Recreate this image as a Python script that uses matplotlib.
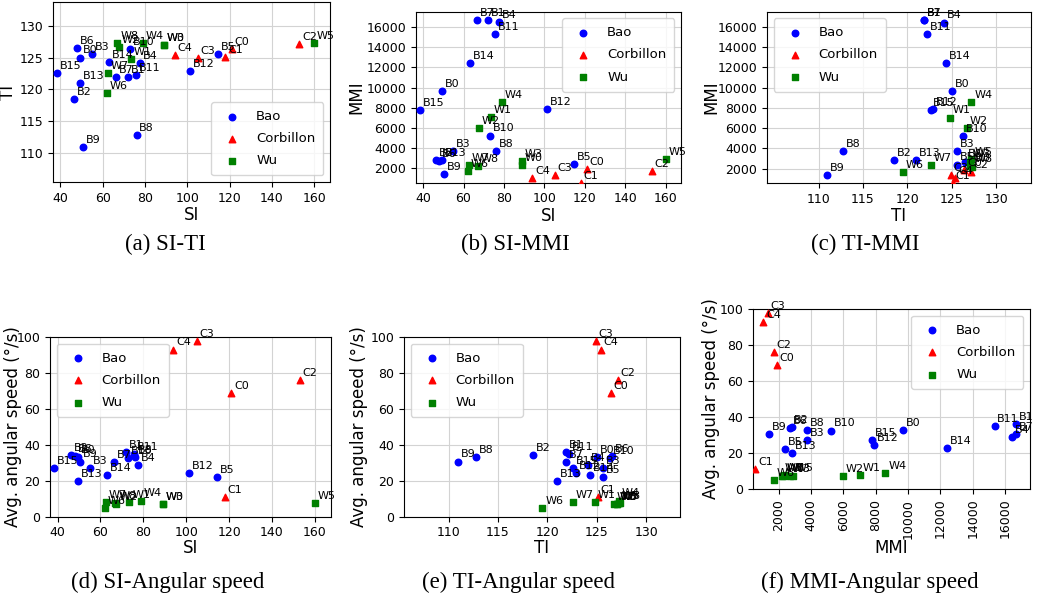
import matplotlib
matplotlib.use("Agg")
import matplotlib.pyplot as plt

# per-video features
bao_names = [f"B{i}" for i in range(16)]
bao_si = [49.5, 72, 46.5, 55, 77.5, 114.5, 48, 66.5, 76, 50.5, 73, 75.7, 101.5, 49.5, 63, 38.5]
bao_ti = [125.0, 121.9, 118.5, 125.6, 124.1, 125.6, 126.5, 121.9, 112.8, 111.0, 126.3, 122.2, 122.9, 121.0, 124.3, 122.6]
bao_mmi = [9700, 16700, 2800, 3750, 16450, 2400, 2700, 16700, 3750, 1400, 5250, 15350, 7900, 2850, 12400, 7800]
bao_speed = [33, 36, 34.5, 27, 29, 22, 34, 30.5, 33, 30.7, 32.5, 35, 24.5, 20, 23, 27]

cor_names = [f"C{i}" for i in range(5)]
cor_si = [121, 118, 153, 105, 94]
cor_ti = [126.4, 125.1, 127.1, 124.9, 125.4]
cor_mmi = [1900, 560, 1700, 1350, 1050]
cor_speed = [69, 11, 76, 98, 93]

wu_names = [f"W{i}" for i in range(9)]
wu_si = [89, 73.5, 67.5, 89, 79, 160, 62, 62.5, 67]
wu_ti = [127.0, 124.8, 126.7, 127.0, 127.2, 127.2, 119.5, 122.6, 127.3]
wu_mmi = [2300, 7050, 6000, 2700, 8600, 2900, 1700, 2350, 2200]
wu_speed = [7, 8, 7, 7, 9, 7.5, 5, 8, 7.5]

captions = ["(a) SI-TI", "(b) SI-MMI", "(c) TI-MMI",
            "(d) SI-Angular speed", "(e) TI-Angular speed", "(f) MMI-Angular speed"]

DATA = {
    "Bao": dict(names=bao_names, SI=bao_si, TI=bao_ti, MMI=bao_mmi, SPD=bao_speed),
    "Corbillon": dict(names=cor_names, SI=cor_si, TI=cor_ti, MMI=cor_mmi, SPD=cor_speed),
    "Wu": dict(names=wu_names, SI=wu_si, TI=wu_ti, MMI=wu_mmi, SPD=wu_speed),
}
STYLE = {
    "Bao": dict(color="blue", marker="o"),
    "Corbillon": dict(color="red", marker="^"),
    "Wu": dict(color="green", marker="s"),
}
LABELS = {"SI": "SI", "TI": "TI", "MMI": "MMI", "SPD": "Avg. angular speed (°/s)"}

W, H = 1037, 600


def place(fig, l, r, t, b):
    return fig.add_axes([l / W, 1 - b / H, (r - l) / W, (b - t) / H])


def panel(ax, xk, yk, xlim, ylim, legend_loc, ylab_x):
    for group, d in DATA.items():
        ax.scatter(d[xk], d[yk], s=22, label=group, zorder=3, **STYLE[group])
        for name, x, y in zip(d["names"], d[xk], d[yk]):
            ax.annotate(name, (x, y), xytext=(2, 1.5), textcoords="offset points",
                        fontsize=8, ha="left", va="bottom", zorder=4)
    ax.set_xlim(*xlim)
    ax.set_ylim(*ylim)
    ax.set_xlabel(LABELS[xk], fontsize=12, labelpad=1)
    ax.set_ylabel(LABELS[yk], fontsize=12)
    ax.yaxis.set_label_coords(ylab_x, 0.5)
    ax.tick_params(labelsize=9)
    ax.grid(True, color="#d3d3d3", linewidth=0.8)
    ax.set_axisbelow(True)
    ax.legend(loc=legend_loc, fontsize=9.5, borderpad=0.6, labelspacing=0.7)


fig = plt.figure(figsize=(W / 100, H / 100), dpi=100)

si_lim = (36.5, 167.5)
mmi_lim = (574, 17520)

ax = place(fig, 53, 330, 2, 182)
panel(ax, "SI", "TI", si_lim, (105.5, 133.7), "lower right", -0.13)
ax.set_xticks(range(40, 161, 20))

ax = place(fig, 416, 681, 11.7, 182.7)
panel(ax, "SI", "MMI", si_lim, mmi_lim, "upper right", -0.19)
ax.set_xticks(range(40, 161, 20))
ax.set_yticks(range(2000, 16001, 2000))

ax = place(fig, 767, 1031, 11.7, 183)
panel(ax, "TI", "MMI", (104.2, 133.9), mmi_lim, "upper left", -0.178)
ax.set_xticks(range(110, 131, 5))
ax.set_yticks(range(2000, 16001, 2000))

ax = place(fig, 50, 331, 337, 516.7)
panel(ax, "SI", "SPD", si_lim, (0, 100), "upper left", -0.1)
ax.set_xticks(range(40, 161, 20))
ax.xaxis.labelpad = 0

ax = place(fig, 404, 680, 337, 516.7)
panel(ax, "TI", "SPD", (105.5, 133.4), (0, 100), "upper left", -0.13)
ax.set_xticks(range(110, 131, 5))
ax.xaxis.labelpad = 0

ax = place(fig, 753, 1030, 309, 489)
panel(ax, "MMI", "SPD", (420, 17540), (0, 100), "upper right", -0.119)
ax.set_xticks(range(2000, 16001, 2000))
ax.tick_params(axis="x", labelrotation=90)
ax.xaxis.labelpad = 0

cap_pos = [(165, 244), (515, 244), (865, 244), (168, 582), (518, 582), (870, 582)]
for text, (cx, cy) in zip(captions, cap_pos):
    fig.text(cx / W, 1 - cy / H, text, ha="center", va="center",
             fontsize=16.5, family="Liberation Serif")

fig.savefig("out.png", dpi=100)
